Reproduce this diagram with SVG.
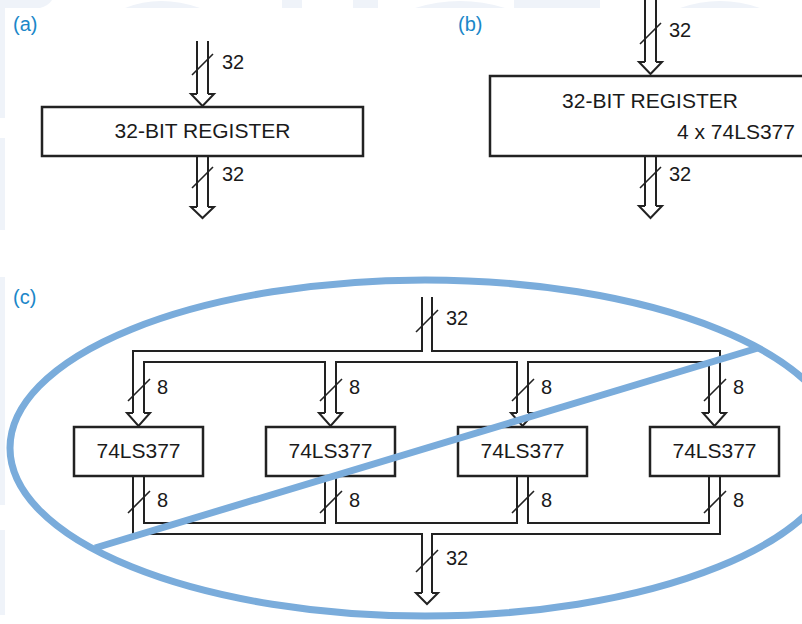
<svg xmlns="http://www.w3.org/2000/svg" width="802" height="624" viewBox="0 0 802 624">
<style>
  .wm{fill:#eff3f9;stroke:none}
  .box{fill:#fff;stroke:#222;stroke-width:2.5}
  .bus{fill:none;stroke:#222;stroke-width:2;stroke-linejoin:miter}
  .head{fill:#fff;stroke:#222;stroke-width:2;stroke-linejoin:miter}
  .sl{stroke:#222;stroke-width:1.6;fill:none}
  .t{font-family:"Liberation Sans",Arial,sans-serif;font-size:21px;fill:#1a1a1a}
  .lb{font-family:"Liberation Sans",Arial,sans-serif;font-size:20px;fill:#1a1a1a}
  .pl{font-family:"Liberation Sans",Arial,sans-serif;font-size:20px;fill:#1b87c9}
  .blue{fill:none;stroke:#7aacdb;stroke-width:7}
</style>
<rect width="802" height="624" fill="#fff"/>
<g id="watermark">
  <path class="wm" d="M0,0 H52 Q48,6 40,8 H0 Z"/>
  <path class="wm" d="M125,8 Q160,-6 200,8 Z"/>
  <rect class="wm" x="282" y="0" width="20" height="8"/>
  <rect class="wm" x="353" y="0" width="25" height="8"/>
  <path class="wm" d="M415,8 Q460,-6 505,8 Z"/>
  <rect class="wm" x="514" y="0" width="86" height="8"/>
  <path class="wm" d="M680,8 Q720,-6 760,8 Z"/>
  <rect class="wm" x="0" y="8" width="5" height="110"/>
  <rect class="wm" x="0" y="138" width="5" height="92"/>
  <rect class="wm" x="0" y="277" width="5" height="228"/>
  <rect class="wm" x="0" y="530" width="5" height="85"/>
</g>

<g id="panel-labels">
  <text class="pl" x="13" y="31">(a)</text>
  <text class="pl" x="458" y="31">(b)</text>
  <text class="pl" x="13" y="304">(c)</text>
</g>

<g id="reg-a">
  <rect class="box" x="42" y="107" width="321" height="49"/>
  <text class="t" x="202.5" y="138" text-anchor="middle">32-BIT REGISTER</text>
</g>

<g id="reg-b">
  <rect class="box" x="490" y="76" width="340" height="80"/>
  <text class="t" x="650" y="108" text-anchor="middle">32-BIT REGISTER</text>
  <text class="t" x="677" y="139">4 x 74LS377</text>
</g>

<g id="chip-1">
  <rect class="box" x="74" y="427" width="129" height="49"/>
  <text class="t" x="138.5" y="458" text-anchor="middle">74LS377</text>
</g>
<g id="chip-2">
  <rect class="box" x="266" y="427" width="129" height="49"/>
  <text class="t" x="330.5" y="458" text-anchor="middle">74LS377</text>
</g>
<g id="chip-3">
  <rect class="box" x="458" y="427" width="129" height="49"/>
  <text class="t" x="522.5" y="458" text-anchor="middle">74LS377</text>
</g>
<g id="chip-4">
  <rect class="box" x="650" y="427" width="129" height="49"/>
  <text class="t" x="714.5" y="458" text-anchor="middle">74LS377</text>
</g>

<g id="connectors">
  <!-- panel a -->
  <path class="bus" d="M197,41 V94 M208,41 V94"/>
  <path class="head" d="M197,94 H191 L202.5,106 L214,94 H208"/>
  <path class="bus" d="M197,156 V207 M208,156 V207"/>
  <path class="head" d="M197,207 H191 L202.5,218 L214,207 H208"/>
  <path class="sl" d="M192,75 L213,54 M192,188 L213,167"/>
  <text class="lb" x="222" y="69">32</text>
  <text class="lb" x="222" y="181">32</text>

  <!-- panel b -->
  <path class="bus" d="M645,0 V62 M656,0 V62"/>
  <path class="head" d="M645,62 H639 L650.5,74 L662,62 H656"/>
  <path class="bus" d="M645,156 V206 M656,156 V206"/>
  <path class="head" d="M645,206 H639 L650.5,218 L662,206 H656"/>
  <path class="sl" d="M640,44 L661,23 M640,188 L661,167"/>
  <text class="lb" x="669" y="37">32</text>
  <text class="lb" x="669" y="181">32</text>

  <!-- panel c: input split -->
  <path class="bus" d="M422,297 V351 H133 V413"/>
  <path class="bus" d="M432,297 V351 H720 V413"/>
  <path class="bus" d="M144,413 V362 H325 V413"/>
  <path class="bus" d="M336,413 V362 H517 V413"/>
  <path class="bus" d="M528,413 V362 H709 V413"/>
  <path class="head" d="M133,413 H127 L138.5,426 L150,413 H144"/>
  <path class="head" d="M325,413 H319 L330.5,426 L342,413 H336"/>
  <path class="head" d="M517,413 H511 L522.5,426 L534,413 H528"/>
  <path class="head" d="M709,413 H703 L714.5,426 L726,413 H720"/>
  <path class="sl" d="M416,332 L438,310"/>
  <text class="lb" x="446" y="325">32</text>
  <path class="sl" d="M128,401 L150,379 M320,401 L342,379 M512,401 L534,379 M704,401 L726,379"/>
  <text class="lb" x="157" y="394">8</text>
  <text class="lb" x="349" y="394">8</text>
  <text class="lb" x="541" y="394">8</text>
  <text class="lb" x="733" y="394">8</text>

  <!-- panel c: output merge -->
  <path class="bus" d="M133,476 V534 H422 V593"/>
  <path class="bus" d="M432,593 V534 H720 V476"/>
  <path class="bus" d="M144,476 V523 H325 V476"/>
  <path class="bus" d="M336,476 V523 H517 V476"/>
  <path class="bus" d="M528,476 V523 H709 V476"/>
  <path class="head" d="M422,593 H416 L427,604 L438,593 H432"/>
  <path class="sl" d="M128,513 L150,491 M320,513 L342,491 M512,513 L534,491 M704,513 L726,491"/>
  <text class="lb" x="157" y="507">8</text>
  <text class="lb" x="349" y="507">8</text>
  <text class="lb" x="541" y="507">8</text>
  <text class="lb" x="733" y="507">8</text>
  <path class="sl" d="M416,572 L438,550"/>
  <text class="lb" x="446" y="565">32</text>
</g>

<g id="cross-out">
  <ellipse class="blue" cx="425" cy="448" rx="415" ry="168"/>
  <line class="blue" stroke-width="6" x1="95" y1="548" x2="758" y2="348"/>
</g>
</svg>
